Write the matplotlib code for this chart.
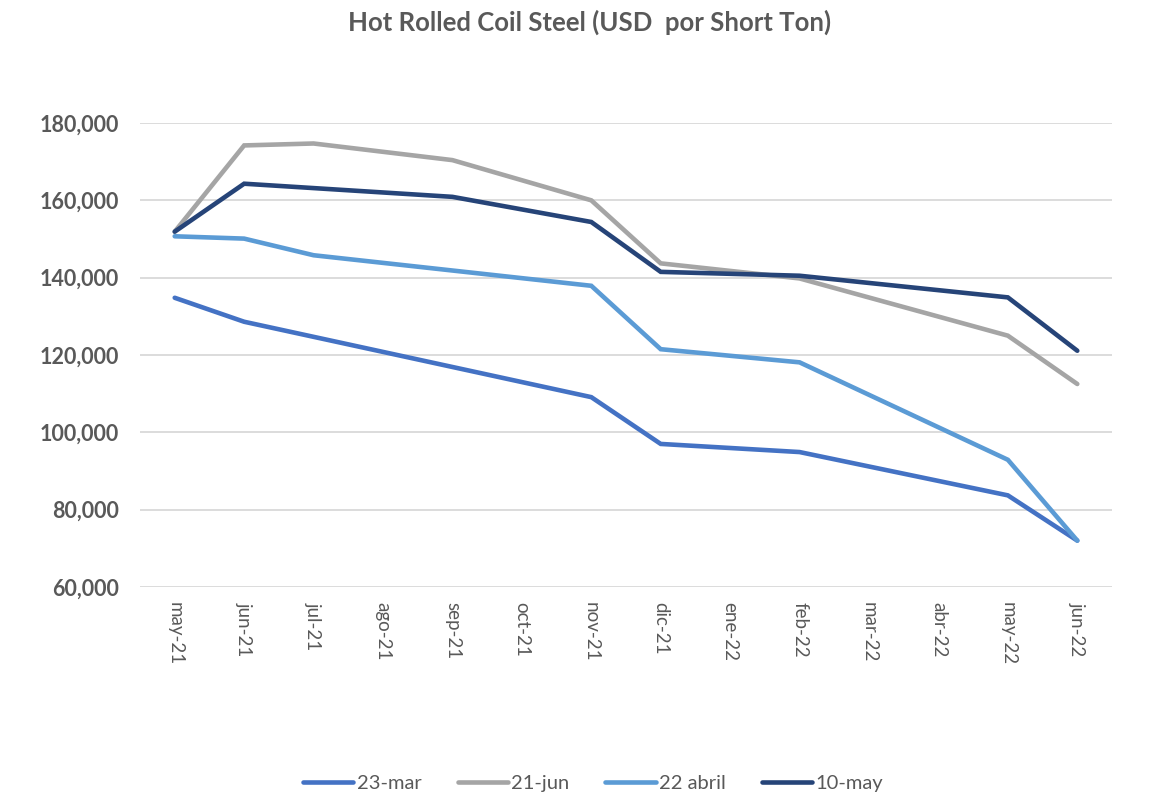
import matplotlib

matplotlib.use('Agg')

import matplotlib.pyplot as plt
import numpy as np

plt.rcParams['font.family'] = ['Lato', 'DejaVu Sans']

months = ['may-21', 'jun-21', 'jul-21', 'ago-21', 'sep-21', 'oct-21', 'nov-21',
          'dic-21', 'ene-22', 'feb-22', 'mar-22', 'abr-22', 'may-22', 'jun-22']

nan = np.nan
# values only where the source line has a bend; the line runs straight across the gaps
mar23 = [134800, 128600, nan, nan, nan, nan, 109100, 97000, nan, 94900, nan, nan, 83700, 72000]
jun21 = [151900, 174200, 174700, nan, 170400, nan, 160000, 143700, nan, 139800, nan, nan, 125000, 112500]
abr22 = [150700, 150100, 145800, nan, nan, nan, 137900, 121500, nan, 118100, nan, nan, 92900, 72000]
may10 = [151900, 164300, nan, nan, 160900, nan, 154400, 141500, nan, 140500, nan, nan, 134900, 121100]

series_names = ['23-mar', '21-jun', '22 abril', '10-may']
series_values = [mar23, jun21, abr22, may10]
colors = ['#4472C4', '#A5A5A5', '#5B9BD5', '#264478']

fig = plt.figure(figsize=(11.53, 7.97), dpi=100)
ax = fig.add_axes([140 / 1153, 1 - 587 / 797, (1112 - 140) / 1153, (587 - 123) / 797])

x = np.arange(len(months))
for name, vals, c in zip(series_names, series_values, colors):
    v = np.array(vals, dtype=float)
    ok = ~np.isnan(v)
    ax.plot(x[ok], v[ok], color=c, lw=3.3, label=name, solid_capstyle='round', solid_joinstyle='miter')

ax.set_xlim(-0.5, len(months) - 0.5)
ax.set_ylim(60000, 180000)
ax.set_yticks(np.arange(60000, 180001, 20000))
ax.yaxis.set_major_formatter(matplotlib.ticker.FuncFormatter(lambda v, p: f'{int(v):,}'))
ax.set_xticks(x)
ax.set_xticklabels(months, rotation=270, fontsize=13.5, color='#595959')
for lab in ax.get_yticklabels():
    lab.set_fontsize(15.5)
    lab.set_fontweight('bold')
    lab.set_color('#595959')

ax.grid(axis='y', color='#D9D9D9', lw=1.3)
ax.set_axisbelow(True)
for s in ax.spines.values():
    s.set_visible(False)
ax.tick_params(length=0)
ax.tick_params(axis='y', pad=15)
ax.tick_params(axis='x', pad=11)

fig.text(590 / 1153, 1 - 22 / 797, 'Hot Rolled Coil Steel (USD  por Short Ton)', ha='center', va='center',
         fontsize=18.5, fontweight='bold', color='#595959')

fig.legend(loc='center', bbox_to_anchor=(593 / 1153, 1 - 783 / 797), ncol=4, frameon=False,
           fontsize=14.5, handlelength=2.5, handletextpad=0.15, columnspacing=1.8, labelcolor='#595959')

fig.savefig('out.png', dpi=100, facecolor='white')
